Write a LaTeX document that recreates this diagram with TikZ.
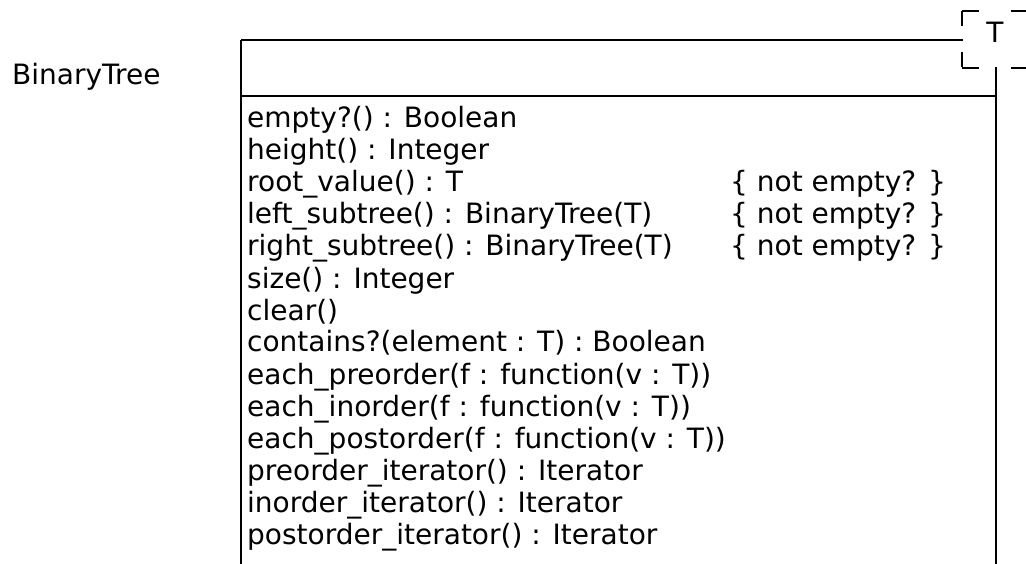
\documentclass[tikz,border=0pt]{standalone}
\usepackage{fontspec}
\setmainfont{DejaVu Sans}
\begin{document}
\begin{tikzpicture}[x=1pt,y=-1pt,
  border/.style={line width=2.2pt},
  tmpl/.style={line width=2pt},
  txt/.style={anchor=base west,inner sep=0pt,font=\fontsize{28}{32}\selectfont},
  ]
\useasboundingbox (0,0) rectangle (1026,564);
% class box borders
\coordinate (tl) at (241,40);
\coordinate (tr) at (963,40);
\coordinate (bl) at (241,564);
\coordinate (dl) at (241,96);
\coordinate (dr) at (996,96);
\coordinate (rt) at (996,67);
\coordinate (rb) at (996,564);
\draw[border] (tl) -- (tr);
\draw[border] (tl) -- (bl);
\draw[border] (dl) -- (dr);
\draw[border] (rt) -- (rb);
% template box (dashed)
\coordinate (t1) at (962,11);
\coordinate (t2) at (1040,11);
\coordinate (t3) at (962,68);
\coordinate (t4) at (1040,68);
\draw[tmpl,dash pattern=on 17pt off 32pt] (t1) -- (t2);
\draw[tmpl,dash pattern=on 17pt off 32pt] (t3) -- (t4);
\draw[tmpl,dash pattern=on 15pt off 26pt] (t1) -- (t3);
\node[txt,anchor=base] (T) at (995,43) {T};
% class name
\node[txt] (name) at (12,85) {BinaryTree};
% operations
\foreach \i/\t in {1/{empty?() : Boolean},
  2/{height() : Integer},
  3/{root\_value() : T},
  4/{left\_subtree() : BinaryTree(T)},
  5/{right\_subtree() : BinaryTree(T)},
  6/{size() : Integer},
  7/{clear()},
  8/{contains?(element : T) : Boolean},
  9/{each\_preorder(f : function(v : T))},
  10/{each\_inorder(f : function(v : T))},
  11/{each\_postorder(f : function(v : T))},
  12/{preorder\_iterator() : Iterator},
  13/{inorder\_iterator() : Iterator},
  14/{postorder\_iterator() : Iterator}}
  {\node[txt] (m\i) at (247,{128+32*(\i-1)}) {\t};}
\foreach \i in {3,4,5}
  {\node[txt] (c\i) at (730,{128+32*(\i-1)}) {\{ not empty? \}};}
\end{tikzpicture}
\end{document}
